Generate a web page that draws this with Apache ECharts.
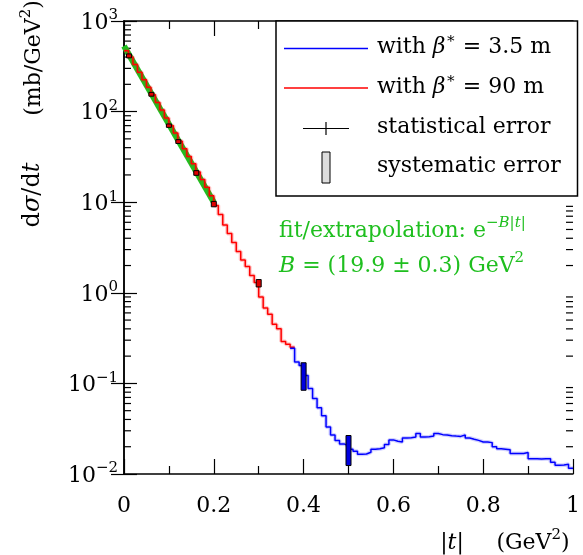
<!DOCTYPE html>
<html>
<head>
<meta charset="utf-8">
<script src="https://cdn.jsdelivr.net/npm/echarts@6/dist/echarts.min.js"></script>
<style>
  html, body { margin: 0; padding: 0; background: #fff; }
  #chart { width: 583px; height: 555px; }
</style>
</head>
<body>
<div id="chart"></div>
<script>
// binning of the two histograms (|t| in GeV^2)
const binWidth = 0.01;
const redStart = 0.0;   // beta* = 90 m
const blueStart = 0.37; // beta* = 3.5 m

// dsigma/dt per bin (mb/GeV^2)
const redValues = [
  470, 400, 330, 272, 225, 186, 153, 126, 104, 85,
  70, 58, 47, 39, 32, 26.5, 21.5, 17.8, 14.6, 11.8,
  9.2, 7.3, 5.6, 4.5, 3.6, 2.85, 2.3, 1.95, 1.55, 1.3,
  0.9, 0.68, 0.58, 0.45, 0.4, 0.29, 0.27, 0.25
];
const blueValues = [
  0.245, 0.172, 0.158, 0.122, 0.088, 0.068, 0.054, 0.044, 0.033, 0.027,
  0.0235, 0.0215, 0.0205, 0.0188, 0.0178, 0.0165, 0.0166, 0.0174, 0.0188, 0.019,
  0.0195, 0.0212, 0.0238, 0.023, 0.0226, 0.025, 0.0252, 0.0256, 0.028, 0.0256,
  0.0258, 0.0262, 0.028, 0.0272, 0.027, 0.0265, 0.0262, 0.026, 0.027, 0.025,
  0.0242, 0.0235, 0.0226, 0.0226, 0.0222, 0.02, 0.019, 0.0188, 0.0185, 0.0168,
  0.0168, 0.0168, 0.0173, 0.0147, 0.0147, 0.0146, 0.0147, 0.0147, 0.0135, 0.0125,
  0.0126, 0.0128, 0.0116
];

// systematic error boxes
const systT    = [0.011, 0.061, 0.100, 0.121, 0.161, 0.200, 0.300, 0.400, 0.500];
const systLo   = [392, 148, 67, 44.5, 19.8, 8.9, 1.16, 0.084, 0.0124];
const systHi   = [433, 163, 73, 49, 22.3, 10.2, 1.40, 0.169, 0.0266];
const systBeam = ['90', '90', '90', '90', '90', '90', '90', '3.5', '3.5'];

// fit line end points
const fitT = [0, 0.2];
const fitV = [530, 10];

const FONT = 'DejaVu Serif';
const FS = 22;   // main text size
const SS = 15;   // superscript size
const LH = 26;
const GREEN = '#1fbf1f';

function stepData(start, values) {
  const pts = values.map((v, i) => [start + i * binWidth, v]);
  pts.push([start + values.length * binWidth, values[values.length - 1]]);
  return pts;
}

// minor log ticks 2..9 per decade
const minorTicks = [];
for (let e = -2; e < 3; e++) {
  for (let m = 2; m <= 9; m++) minorTicks.push([0, m * Math.pow(10, e)]);
}

const chart = echarts.init(document.getElementById('chart'), null, { renderer: 'canvas' });

// rich-text styles: normal, italic, superscript, italic superscript
function richSet(color, size) {
  const fs = size || FS;
  return {
    n: { fontFamily: FONT, fontSize: fs, color: color, verticalAlign: 'bottom', lineHeight: LH },
    i: { fontFamily: FONT, fontSize: fs, color: color, fontStyle: 'italic', verticalAlign: 'bottom', lineHeight: LH },
    s: { fontFamily: FONT, fontSize: SS, color: color, verticalAlign: 'top', lineHeight: LH },
    si: { fontFamily: FONT, fontSize: SS, color: color, fontStyle: 'italic', verticalAlign: 'top', lineHeight: LH }
  };
}
const txt = (extra) => Object.assign({ fontFamily: FONT, fontSize: FS, fill: '#000' }, extra);

const tickStyle = { color: '#000', width: 1.2 };

chart.setOption({
  animation: false,
  backgroundColor: '#fff',
  grid: { left: 124, right: 5, top: 21, bottom: 81 },
  xAxis: [
    {
      type: 'value', min: 0, max: 1, interval: 0.2,
      axisLine: { onZero: false, lineStyle: { color: '#000', width: 1.5 } },
      axisTick: { inside: true, length: 15, lineStyle: tickStyle },
      minorTick: { show: true, splitNumber: 2, length: 8, lineStyle: tickStyle },
      splitLine: { show: false },
      axisLabel: {
        margin: 21, fontFamily: FONT, fontSize: FS, color: '#000',
        formatter: v => String(Math.round(v * 10) / 10)
      }
    },
    {
      type: 'value', min: 0, max: 1, interval: 0.2, position: 'top',
      axisLine: { onZero: false, lineStyle: { color: '#000', width: 1.5 } },
      axisTick: { inside: true, length: 15, lineStyle: tickStyle },
      minorTick: { show: true, splitNumber: 2, length: 8, lineStyle: tickStyle },
      splitLine: { show: false },
      axisLabel: { show: false }
    }
  ],
  yAxis: [
    {
      type: 'log', logBase: 10, min: 0.01, max: 1000,
      axisLine: { show: true, lineStyle: { color: '#000', width: 1.5 } },
      axisTick: { show: true, inside: true, length: 13, lineStyle: tickStyle },
      splitLine: { show: false },
      axisLabel: {
        margin: 6,
        formatter: v => {
          const e = Math.round(Math.log10(v));
          return '{n|10}{s|' + (e < 0 ? '\u2212' + (-e) : e) + '}';
        },
        rich: richSet('#000')
      }
    },
    {
      type: 'log', logBase: 10, min: 0.01, max: 1000, position: 'right',
      axisLine: { show: true, lineStyle: { color: '#000', width: 1.5 } },
      axisTick: { show: true, inside: true, length: 13, lineStyle: tickStyle },
      splitLine: { show: false },
      axisLabel: { show: false }
    }
  ],
  series: [
    {
      name: 'minor ticks', type: 'custom', silent: true, clip: false, z: 1,
      data: minorTicks,
      renderItem: (params, api) => {
        const cs = params.coordSys;
        const y = api.coord([0, api.value(1)])[1];
        const st = { stroke: '#000', lineWidth: 1.2 };
        return {
          type: 'group',
          children: [
            { type: 'line', shape: { x1: cs.x, y1: y, x2: cs.x + 7, y2: y }, style: st },
            { type: 'line', shape: { x1: cs.x + cs.width - 7, y1: y, x2: cs.x + cs.width, y2: y }, style: st }
          ]
        };
      }
    },
    {
      name: 'fit', type: 'line', showSymbol: false, z: 2,
      data: fitT.map((t, i) => [t, fitV[i]]),
      lineStyle: { color: GREEN, width: 6 }
    },
    {
      name: 'beta90 band', type: 'line', step: 'end', showSymbol: false, z: 3,
      data: stepData(redStart, redValues),
      lineStyle: { color: 'rgba(255,0,0,0.22)', width: 4 }
    },
    {
      name: 'beta3.5 band', type: 'line', step: 'end', showSymbol: false, z: 3,
      data: stepData(blueStart, blueValues),
      lineStyle: { color: 'rgba(0,0,255,0.18)', width: 4 }
    },
    {
      name: 'with beta* = 90 m', type: 'line', step: 'end', showSymbol: false, z: 4,
      data: stepData(redStart, redValues),
      lineStyle: { color: '#ff0000', width: 1.5 }
    },
    {
      name: 'with beta* = 3.5 m', type: 'line', step: 'end', showSymbol: false, z: 4,
      data: stepData(blueStart, blueValues),
      lineStyle: { color: '#0000ff', width: 1.5 }
    },
    {
      name: 'systematic error', type: 'custom', z: 5,
      data: systT.map((t, i) => [t, systLo[i], systHi[i], systBeam[i] === '90' ? 0 : 1]),
      renderItem: (params, api) => {
        const top = api.coord([api.value(0), api.value(2)]);
        const bot = api.coord([api.value(0), api.value(1)]);
        const w = 5;
        return {
          type: 'rect',
          shape: { x: top[0] - w / 2, y: top[1], width: w, height: bot[1] - top[1] },
          style: { fill: api.value(3) === 0 ? '#e00000' : '#0000e0', stroke: '#000', lineWidth: 1 }
        };
      }
    }
  ],
  graphic: [
    // legend
    { type: 'rect', z: 100, shape: { x: 276, y: 21, width: 301.5, height: 175 },
      style: { fill: '#fff', stroke: '#000', lineWidth: 1.5 } },
    { type: 'line', z: 101, shape: { x1: 284, y1: 48.5, x2: 368, y2: 48.5 }, style: { stroke: '#0000ff', lineWidth: 1.5 } },
    { type: 'line', z: 101, shape: { x1: 284, y1: 88, x2: 368, y2: 88 }, style: { stroke: '#ff0000', lineWidth: 1.5 } },
    { type: 'line', z: 101, shape: { x1: 303, y1: 128.5, x2: 349, y2: 128.5 }, style: { stroke: '#000', lineWidth: 1.2 } },
    { type: 'line', z: 101, shape: { x1: 326, y1: 122, x2: 326, y2: 135 }, style: { stroke: '#000', lineWidth: 1.2 } },
    { type: 'rect', z: 101, shape: { x: 322, y: 152, width: 8, height: 31 }, style: { fill: '#ddd', stroke: '#000', lineWidth: 1 } },
    { type: 'text', z: 101, x: 377, y: 45, style: txt({ verticalAlign: 'middle',
      text: '{n|with }{i|β}{s|∗}{n| = 3.5 m}', rich: richSet('#000') }) },
    { type: 'text', z: 101, x: 377, y: 85, style: txt({ verticalAlign: 'middle',
      text: '{n|with }{i|β}{s|∗}{n| = 90 m}', rich: richSet('#000') }) },
    { type: 'text', z: 101, x: 377, y: 127, style: txt({ verticalAlign: 'middle', text: 'statistical error' }) },
    { type: 'text', z: 101, x: 377, y: 166, style: txt({ verticalAlign: 'middle', text: 'systematic error' }) },
    // fit annotation
    { type: 'text', z: 50, x: 279, y: 229, style: txt({ verticalAlign: 'middle', fill: GREEN,
      text: '{n|fit/extrapolation: e}{s|\u2212}{si|B}{s||}{si|t}{s||}', rich: richSet(GREEN) }) },
    { type: 'text', z: 50, x: 279, y: 264, style: txt({ verticalAlign: 'middle', fill: GREEN,
      text: '{i|B}{n| = (19.9 ± 0.3) GeV}{s|2}', rich: richSet(GREEN) }) },
    // axis titles
    { type: 'text', x: 32, y: 195, rotation: Math.PI / 2, style: txt({ align: 'center', verticalAlign: 'middle',
      text: '{n|d}{i|σ}{n|/d}{i|t}', rich: richSet('#000', 24) }) },
    { type: 'text', x: 32, y: 58, rotation: Math.PI / 2, style: txt({ align: 'center', verticalAlign: 'middle',
      text: '{n|(mb/GeV}{s|2}{n|)}', rich: richSet('#000') }) },
    { type: 'text', x: 452, y: 541, style: txt({ align: 'center', verticalAlign: 'middle',
      text: '{n||}{i|t}{n||}', rich: richSet('#000') }) },
    { type: 'text', x: 533, y: 541, style: txt({ align: 'center', verticalAlign: 'middle',
      text: '{n|(GeV}{s|2}{n|)}', rich: richSet('#000') }) }
  ]
});
</script>
</body>
</html>
